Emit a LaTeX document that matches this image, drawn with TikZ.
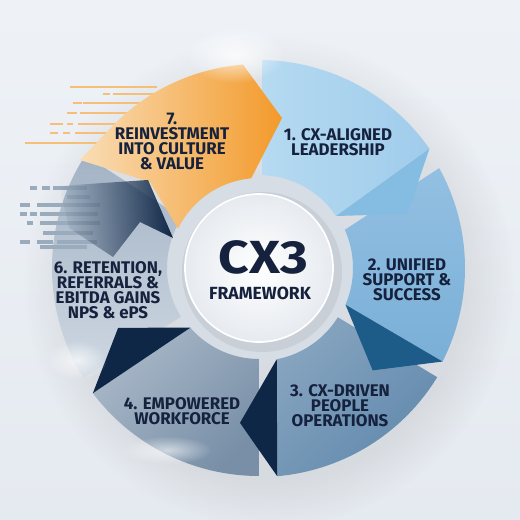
\documentclass[tikz,border=0pt]{standalone}
\usepackage{fontspec}
\setmainfont{Fira Sans}
\newfontfamily\widefont{Fira Sans}[FakeStretch=1.15]
\usetikzlibrary{fadings}

\definecolor{bgtop}{HTML}{EEF2F7}
\definecolor{bgbot}{HTML}{E5EAF0}
\definecolor{ink}{HTML}{15213D}
\definecolor{navy}{HTML}{0F2747}
\definecolor{skyA}{HTML}{B5DAF1}
\definecolor{skyB}{HTML}{A0CCEB}
\definecolor{skyfold}{HTML}{84BCE2}
\definecolor{blueA}{HTML}{93C0E2}
\definecolor{blueB}{HTML}{7AAFD7}
\definecolor{bluefold}{HTML}{1D5C89}
\definecolor{steelA}{HTML}{6189AD}
\definecolor{steelB}{HTML}{86A4BF}
\definecolor{slateA}{HTML}{788FA7}
\definecolor{slateB}{HTML}{A9B8C8}
\definecolor{mistA}{HTML}{CED8E2}
\definecolor{mistB}{HTML}{A3B3C5}
\definecolor{orangeA}{HTML}{F9DDB5}
\definecolor{orangeB}{HTML}{F39A2B}
\definecolor{halo}{HTML}{D6DDE5}

\tikzfading[name=soft glow, inner color=transparent!0, outer color=transparent!100]
\tikzfading[name=fade left, left color=transparent!100, middle color=transparent!0, right color=transparent!0]

\begin{document}
\begin{tikzpicture}[x=0.025cm, y=0.025cm,
  lbl/.style={text=ink, font=\fontsize{12}{10.7}\selectfont\bfseries, align=center, inner sep=0pt},
  fold/.style={fill=navy},
  orangeline/.style={draw=orangeA!55!orangeB, line width=2pt},
  greyline/.style={draw=slateA!75!white, line width=2.2pt},
  glow/.style={fill=white, path fading=soft glow}]

%Background
\shade[top color=bgtop, bottom color=bgbot] (-259,-252) rectangle (261,268);
\useasboundingbox (-259,-252) rectangle (261,268);

%Soft shadow under the wheel
\fill[black!50, opacity=0.15, path fading=circle with fuzzy edge 20 percent] (10,-14) circle[radius=245];

%Halo round the centre
\fill[halo] (0,0) circle[radius=95];

%Segment 6
\shade[top color=mistB, bottom color=mistA] (147:207) arc[start angle=147, end angle=212, radius=207] -- (212:92) arc[start angle=212, end angle=147, radius=92] -- cycle;

%Grey speed lines
\draw[greyline] (-229,80) -- (-222,80) (-217,80) -- (-209,80) (-206,80) -- (-172,80);
\draw[greyline] (-192,71) -- (-169,71);
\draw[greyline] (-239,63) -- (-229,63) (-222,63) -- (-159,63);
\draw[greyline] (-239,54) -- (-232,54) (-229,54) -- (-222,54) (-219,54) -- (-161,54);
\draw[greyline] (-232,45) -- (-226,45) (-219,45) -- (-159,45);
\draw[greyline] (-216,35) -- (-166,35);
\draw[greyline] (-239,26) -- (-229,26) (-222,26) -- (-206,26) (-202,26) -- (-162,26);
\draw[greyline] (-219,21) -- (-172,21);

%Segment 4
\shade[left color=slateB, right color=slateA, shading angle=45] (0,-92) -- (0,-208) arc[start angle=-90, end angle=-143, radius=208] -- (-139:91) arc[start angle=-139, end angle=-90, radius=91] -- cycle;
\fill[fold] (-143:208) -- (-157:153) -- (-139:91) -- cycle;

%Segment 3
\shade[left color=steelB, right color=steelA, shading angle=45] (-31.5:209) arc[start angle=-31.5, end angle=-85, radius=209] -- (-79:93) arc[start angle=-79, end angle=-32, radius=93] -- cycle;
\fill[fold] (-85:209) -- (-97:156) -- (-79:93) -- cycle;

%Segment 2
\shade[top color=blueA, bottom color=blueB] (29:206) arc[start angle=29, end angle=-27, radius=206] -- (-23:94) arc[start angle=-23, end angle=24, radius=94] -- cycle;
\fill[bluefold] (-27:206) -- (-42:153) -- (-23:94) -- cycle;

%Segment 1
\shade[left color=skyA, right color=skyB] (89:208) arc[start angle=89, end angle=35, radius=208] -- (34:93) arc[start angle=34, end angle=88, radius=93] -- cycle;
\fill[skyfold] (35:208) -- (20:158) -- (34:93) -- cycle;

%Orange speed lines
\draw[orangeline] (-189,181) -- (-102,181);
\draw[orangeline] (-156,174) -- (-149,174) (-146,174) -- (-102,174);
\draw[orangeline] (-186,165) -- (-177,165) (-176,165) -- (-112,165);
\draw[orangeline] (-192,155) -- (-182,155) (-179,155) -- (-119,155);
\draw[orangeline] (-209,144) -- (-196,144) (-192,144) -- (-186,144) (-181,144) -- (-129,144);
\draw[orangeline] (-209,135) -- (-201,135) (-196,135) -- (-189,135) (-184,135) -- (-142,135);
\draw[orangeline] (-234,125) -- (-149,125);

%Segment 7
\shade[left color=orangeA, middle color=orangeB!85!orangeA, right color=orangeB] (94.5:204) arc[start angle=94.5, end angle=135, radius=204] -- (-179,108) -- (-109,86) -- (154:90) arc[start angle=154, end angle=95, radius=90] -- (23,150) -- cycle;

%Navy arrow into segment 7
\fill[navy, path fading=fade left] (-200,82) -- (-111,88) -- (-86,30) -- (-119,46) -- (-146,11) -- (-190,40) -- cycle;

%Glare
\fill[glow, opacity=0.8] (-24,213) ellipse[x radius=50, y radius=28];
\fill[glow, opacity=0.7] (-182,-92) ellipse[x radius=30, y radius=20];
\fill[glow, opacity=0.6] (-92,-182) ellipse[x radius=45, y radius=14];

%Centre disc
\fill[halo!80!black, opacity=0.3] (3,-4) circle[radius=80];
\shade[inner color=white, outer color=halo!60!white] (0,0) circle[radius=74];
\draw[white, line width=1.2pt] (0,0) circle[radius=74];

%Labels
\node[lbl] (seven) at (-87,126.5) {7.\\REINVESTMENT\\INTO CULTURE\\\& VALUE};
\node[lbl] (one) at (79,125.5) {1. CX-ALIGNED\\LEADERSHIP};
\node[lbl] (two) at (148,-11.5) {2. UNIFIED\\SUPPORT \&\\SUCCESS};
\node[lbl] (three) at (81,-137.5) {3. CX-DRIVEN\\PEOPLE\\OPERATIONS};
\node[lbl] (four) at (-77,-143.5) {4. EMPOWERED\\WORKFORCE};
\node[lbl] (six) at (-151,-22) {6. RETENTION,\\REFERRALS \&\\EBITDA GAINS\\NPS \& ePS};
\node[lbl, font=\widefont\fontsize{33}{33}\selectfont\bfseries, text height=22.7pt, text depth=0pt] (cx) at (4.5,10.5) {CX3};
\node[lbl, font=\fontsize{12.5}{12.5}\selectfont\bfseries, text height=8.6pt, text depth=0pt] (frame) at (1,-25) {FRAMEWORK};

\end{tikzpicture}
\end{document}
